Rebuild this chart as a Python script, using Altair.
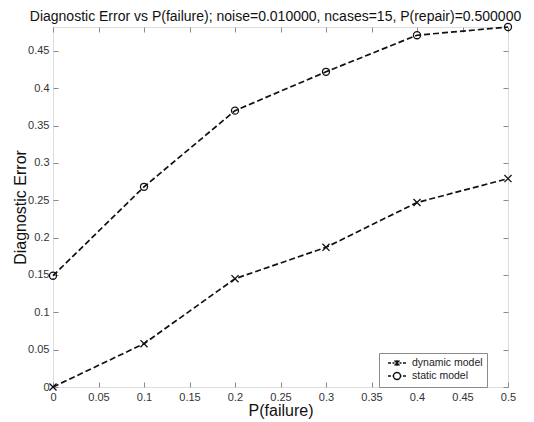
import altair as alt
import pandas as pd

p_failure = [0.0, 0.1, 0.2, 0.3, 0.4, 0.5]
dynamic_err = [0.0, 0.058, 0.145, 0.187, 0.247, 0.279]
static_err = [0.149, 0.268, 0.370, 0.422, 0.471, 0.482]
series_names = ["dynamic model", "static model"]
x_ticks = [0, 0.05, 0.1, 0.15, 0.2, 0.25, 0.3, 0.35, 0.4, 0.45, 0.5]
y_ticks = [0, 0.05, 0.1, 0.15, 0.2, 0.25, 0.3, 0.35, 0.4, 0.45]

rows = []
for name, vals in zip(series_names, [dynamic_err, static_err]):
    for p, v in zip(p_failure, vals):
        rows.append({"p": p, "err": v, "series": name})
df = pd.DataFrame(rows)

FONT = "Liberation Sans"
GRAY = "#8a8a8a"
INK = "#111111"

xscale = alt.Scale(domain=[0, 0.5], nice=False, zero=False)
yscale = alt.Scale(domain=[0, 0.482], nice=False, zero=False)

tick_axis = dict(domain=False, grid=False, tickSize=5, offset=-5, tickColor=GRAY,
                 tickWidth=1, labelFont=FONT, labelFontSize=11, labelColor="#333333",
                 labelPadding=4)
title_style = dict(titleFont=FONT, titleFontSize=16, titleFontWeight="normal",
                   titleColor="#111111")

x_axis = alt.Axis(values=x_ticks, format="~g", labelFlush=False, title="P(failure)",
                  titleBaseline="middle", titleY=28, **tick_axis, **title_style)
y_axis = alt.Axis(values=y_ticks, format="~g", title="Diagnostic Error",
                  titleBaseline="middle", titleX=-38, titleAngle=-90, **tick_axis, **title_style)
x_top = alt.Axis(values=x_ticks, orient="top", labels=False, title=None, **tick_axis)
y_right = alt.Axis(values=y_ticks, orient="right", labels=False, title=None, **tick_axis)

base = alt.Chart(df)

lines = base.mark_line(color=INK, strokeWidth=1.7, strokeDash=[6, 3]).encode(
    x=alt.X("p:Q", scale=xscale, axis=x_axis),
    y=alt.Y("err:Q", scale=yscale, axis=y_axis),
    detail="series:N",
)

cross_path = "M-1,-1L1,1M-1,1L1,-1"
points = base.mark_point(color=INK, filled=False, strokeWidth=1.3, size=50, opacity=1).encode(
    x=alt.X("p:Q", scale=xscale, axis=x_top),
    y=alt.Y("err:Q", scale=yscale, axis=y_right),
    shape=alt.Shape("series:N", scale=alt.Scale(domain=series_names, range=[cross_path, "circle"]),
                    legend=None),
)

leg_dyn = "M-1.8,0L-1.2,0M-0.9,0L-0.5,0M0.5,0L0.9,0M1.2,0L1.8,0M-0.5,-0.5L0.5,0.5M-0.5,0.5L0.5,-0.5M0,-0.6L0,0.6"
leg_sta = "M-1.8,0L-1.2,0M-0.9,0L-0.7,0M0.7,0L0.9,0M1.2,0L1.8,0M0.7,0A0.7,0.7,0,1,1,-0.7,0A0.7,0.7,0,1,1,0.7,0"
legend_layer = base.mark_point(color=INK, filled=False, opacity=0, strokeWidth=1.3).encode(
    x=alt.X("p:Q", scale=xscale, axis=None),
    y=alt.Y("err:Q", scale=yscale, axis=None),
    shape=alt.Shape("series:N", scale=alt.Scale(domain=series_names, range=[leg_dyn, leg_sta]),
                    legend=alt.Legend(title=None, orient="none", legendX=326, legendY=326,
                                      symbolSize=100, symbolOpacity=1, symbolStrokeColor=INK,
                                      symbolStrokeWidth=1.4, symbolFillColor="transparent",
                                      symbolOffset=8,
                                      labelFont=FONT, labelFontSize=10.5, labelColor="#222222",
                                      labelOffset=9, padding=4, rowPadding=0,
                                      strokeColor=GRAY, fillColor="white", cornerRadius=0)),
)

chart = alt.layer(lines, points, legend_layer).resolve_scale(
    shape="independent"
).resolve_axis(x="independent", y="independent").properties(
    width=455, height=360,
    autosize=alt.AutoSizeParams(type="none"),
    padding={"left": 45, "top": 19, "right": 18, "bottom": 35},
    title=alt.Title("Diagnostic Error vs P(failure); noise=0.010000, ncases=15, P(repair)=0.500000",
                    font=FONT, fontSize=14, fontWeight="normal", color="#111111",
                    anchor="middle", offset=6, dy=9, dx=-5),
).configure_view(stroke=GRAY, strokeWidth=1).configure(background="white")

chart.save("out.html", embed_options={"renderer": "svg", "actions": False})
